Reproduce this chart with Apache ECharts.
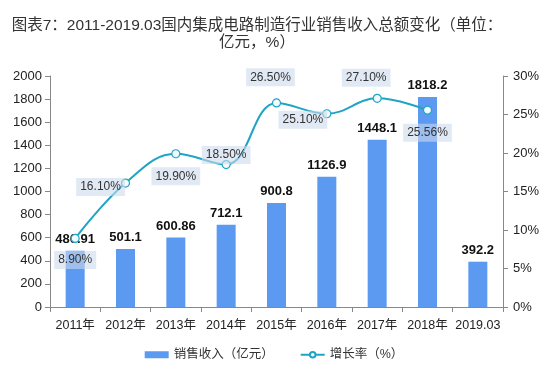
<!DOCTYPE html>
<html><head><meta charset="utf-8">
<script src="https://cdn.jsdelivr.net/npm/echarts@6/dist/echarts.min.js"></script>
<style>html,body{margin:0;padding:0;background:#fff}#c{width:548px;height:378px}</style>
</head><body><div id="c"></div>
<script>
var categories = ['2011年','2012年','2013年','2014年','2015年','2016年','2017年','2018年','2019.03'];
var salesValues = [486.91, 501.1, 600.86, 712.1, 900.8, 1126.9, 1448.1, 1818.2, 392.2];
var growthValues = [8.90, 16.10, 19.90, 18.50, 26.50, 25.10, 27.10, 25.56, null];
var growthLabels = ['8.90%','16.10%','19.90%','18.50%','26.50%','25.10%','27.10%','25.56%',''];
var leftTicks = {min:0, max:2000, interval:200};
var rightTicks = {min:0, max:30, interval:5};

var FONT = "'Liberation Sans','Noto Sans CJK SC',sans-serif";
var labelPos = [
  {position:'bottom', distance:8, offset:[0,0]},
  {position:'left', distance:-4, offset:[0,4]},
  {position:'bottom', distance:9, offset:[0,0]},
  {position:'top', distance:-4, offset:[0,0]},
  {position:'top', distance:12, offset:[-6,0]},
  {position:'left', distance:-5, offset:[0,6]},
  {position:'top', distance:7, offset:[-11,0]},
  {position:'bottom', distance:9, offset:[0,0]},
  {position:'top', distance:5, offset:[0,0]}
];
var lineData = growthValues.map(function(v,i){
  return {value:v, label:{position:labelPos[i].position, distance:labelPos[i].distance, offset:labelPos[i].offset,
    formatter: growthLabels[i]}};
});

var chart = echarts.init(document.getElementById('c'), null, {renderer:'canvas'});
chart.setOption({
  animation:false,
  backgroundColor:'#fff',
  textStyle:{fontFamily:FONT},
  title:{
    text:'图表7：2011-2019.03国内集成电路制造行业销售收入总额变化（单位：\n亿元，%）',
    left:252, top:12, textAlign:'center',
    textStyle:{fontSize:15.5, fontWeight:'normal', color:'#333', lineHeight:17, fontFamily:FONT}
  },
  legend:{
    bottom:12, left:'center', itemGap:26, itemWidth:24, itemHeight:7,
    textStyle:{fontSize:12.5, color:'#333', fontFamily:FONT},
    data:[{name:'销售收入（亿元）', icon:'rect'},{name:'增长率（%）'}]
  },
  grid:{left:50, right:45, top:76, bottom:71},
  xAxis:{
    type:'category', data:categories,
    axisLine:{lineStyle:{color:'#888'}},
    axisTick:{show:true, lineStyle:{color:'#888'}, length:5},
    axisLabel:{color:'#222', fontSize:12.5, margin:12, interval:0, fontFamily:FONT}
  },
  yAxis:[
    {type:'value', min:leftTicks.min, max:leftTicks.max, interval:leftTicks.interval,
     axisLine:{show:true, lineStyle:{color:'#888'}},
     axisTick:{show:true, length:5, lineStyle:{color:'#888'}},
     splitLine:{show:false},
     axisLabel:{color:'#222', fontSize:13, margin:8, fontFamily:FONT, formatter:function(v){return String(v);}}},
    {type:'value', min:rightTicks.min, max:rightTicks.max, interval:rightTicks.interval, position:'right',
     axisLine:{show:true, lineStyle:{color:'#888'}},
     axisTick:{show:true, length:5, lineStyle:{color:'#888'}},
     splitLine:{show:false},
     axisLabel:{color:'#222', fontSize:13, margin:10, formatter:'{value}%', fontFamily:FONT}}
  ],
  series:[
    {name:'销售收入（亿元）', type:'bar', data:salesValues, yAxisIndex:0, barWidth:19,
     itemStyle:{color:'#5b9af0'},
     label:{show:true, position:'top', distance:5, color:'#111', fontWeight:'bold', fontSize:13, fontFamily:FONT}},
    {name:'增长率（%）', type:'line', data:lineData, yAxisIndex:1, smooth:0.4,
     symbol:'circle', symbolSize:8, showSymbol:true,
     lineStyle:{color:'#20a4c4', width:2},
     itemStyle:{color:'#f2fbfd', borderColor:'#20a4c4', borderWidth:1.2},
     label:{show:true, color:'#333', fontSize:12, fontFamily:FONT,
       backgroundColor:'rgba(205,219,237,0.6)', padding:[3,4]},
     z:5}
  ]
});
</script>
</body></html>
